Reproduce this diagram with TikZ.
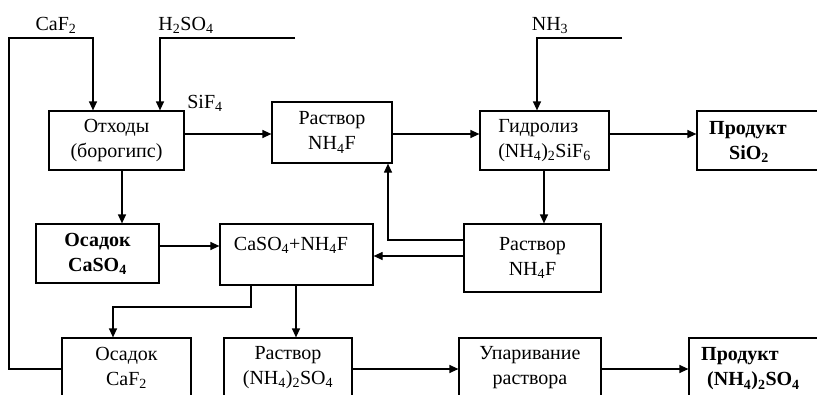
\documentclass[tikz,border=0pt]{standalone}
\usepackage{fontspec}
\setmainfont{Liberation Serif}
\usetikzlibrary{arrows.meta}
\begin{document}
\begin{tikzpicture}[x=1pt,y=-1pt,
  box/.style={draw, line width=1.2pt, inner sep=0pt, align=center, font=\fontsize{20}{25}\selectfont},
  lbl/.style={inner sep=0pt, font=\fontsize{20}{25}\selectfont},
  arr/.style={line width=1.2pt, -{Triangle[length=9pt,width=8pt]}}]
\useasboundingbox (0,0) rectangle (817,394);
\clip (0,0) rectangle (817,394);
% boxes
\node[box, minimum width=135pt, minimum height=59pt] (otx) at (116.5,140.5) {Отходы\\(борогипс)};
\node[box, minimum width=120pt, minimum height=61pt] (rf1) at (332,132.5) {Раствор\\NH\textsubscript{4}F};
\node[box, minimum width=129pt, minimum height=59pt, align=left] (gid) at (544.5,140.5) {Гидролиз\\(NH\textsubscript{4})\textsubscript{2}SiF\textsubscript{6}};
\node[box, minimum width=133pt, minimum height=59pt] (psio) at (763.5,140.5) {};
\node[lbl, anchor=west, align=left, font=\fontsize{20}{25}\selectfont\bfseries] (psiot) at (709,142) {Продукт\\\hspace*{20pt}SiO\textsubscript{2}};
\node[box, minimum width=123pt, minimum height=59pt, font=\fontsize{20}{25}\selectfont\bfseries] (oca) at (97.5,253.5) {Осадок\\CaSO\textsubscript{4}};
\node[box, minimum width=153pt, minimum height=61pt] (mix) at (296.5,254.5) {};
\node[lbl, anchor=base] (mixt) at (291,250) {CaSO\textsubscript{4}+NH\textsubscript{4}F};
\node[box, minimum width=137pt, minimum height=68pt] (rf2) at (532.5,258) {Раствор\\NH\textsubscript{4}F};
\node[box, minimum width=129pt, minimum height=59pt] (ocaf) at (126.5,367.5) {Осадок\\CaF\textsubscript{2}};
\node[box, minimum width=128pt, minimum height=59pt] (ram) at (288,367.5) {Раствор\\(NH\textsubscript{4})\textsubscript{2}SO\textsubscript{4}};
\node[box, minimum width=142pt, minimum height=59pt] (upar) at (530,367.5) {Упаривание\\раствора};
\node[box, minimum width=141pt, minimum height=59pt] (pam) at (759.5,367.5) {};
\node[lbl, anchor=west, align=left, font=\fontsize{20}{25}\selectfont\bfseries] (pamt) at (701,369) {Продукт\\\hspace*{6pt}(NH\textsubscript{4})\textsubscript{2}SO\textsubscript{4}};
% labels
\node[lbl, anchor=base] (lcaf) at (56,30) {CaF\textsubscript{2}};
\node[lbl, anchor=base] (lhs) at (186,30) {H\textsubscript{2}SO\textsubscript{4}};
\node[lbl, anchor=base] (lnh) at (550,30) {NH\textsubscript{3}};
\node[lbl, anchor=base] (lsif) at (205,108) {SiF\textsubscript{4}};
% free ends
\coordinate (hs) at (295,38);
\coordinate (nh) at (622,38);
% connectors
\draw[arr] (ocaf.west |- 0,369) -| (9,38) -| (otx.north -| 93,0);
\draw[arr] (hs) -| (otx.north -| 160,0);
\draw[arr] (nh) -| (gid.north -| 537,0);
\draw[arr] (otx.east |- 0,134) -- (rf1.west |- 0,134);
\draw[arr] (rf1.east |- 0,134) -- (gid.west |- 0,134);
\draw[arr] (gid.east |- 0,134) -- (psio.west |- 0,134);
\draw[arr] (otx.south -| 122,0) -- (oca.north -| 122,0);
\draw[arr] (gid.south -| 544,0) -- (rf2.north -| 544,0);
\draw[arr] (rf2.west |- 0,240) -| (rf1.south -| 388,0);
\draw[arr] (rf2.west |- 0,256) -- (mix.east |- 0,256);
\draw[arr] (oca.east |- 0,246) -- (mix.west |- 0,246);
\draw[arr] (mix.south -| 251,0) |- (113,307) -- (ocaf.north -| 113,0);
\draw[arr] (mix.south -| 296,0) -- (ram.north -| 296,0);
\draw[arr] (ram.east |- 0,369) -- (upar.west |- 0,369);
\draw[arr] (upar.east |- 0,369) -- (pam.west |- 0,369);
\end{tikzpicture}
\end{document}
